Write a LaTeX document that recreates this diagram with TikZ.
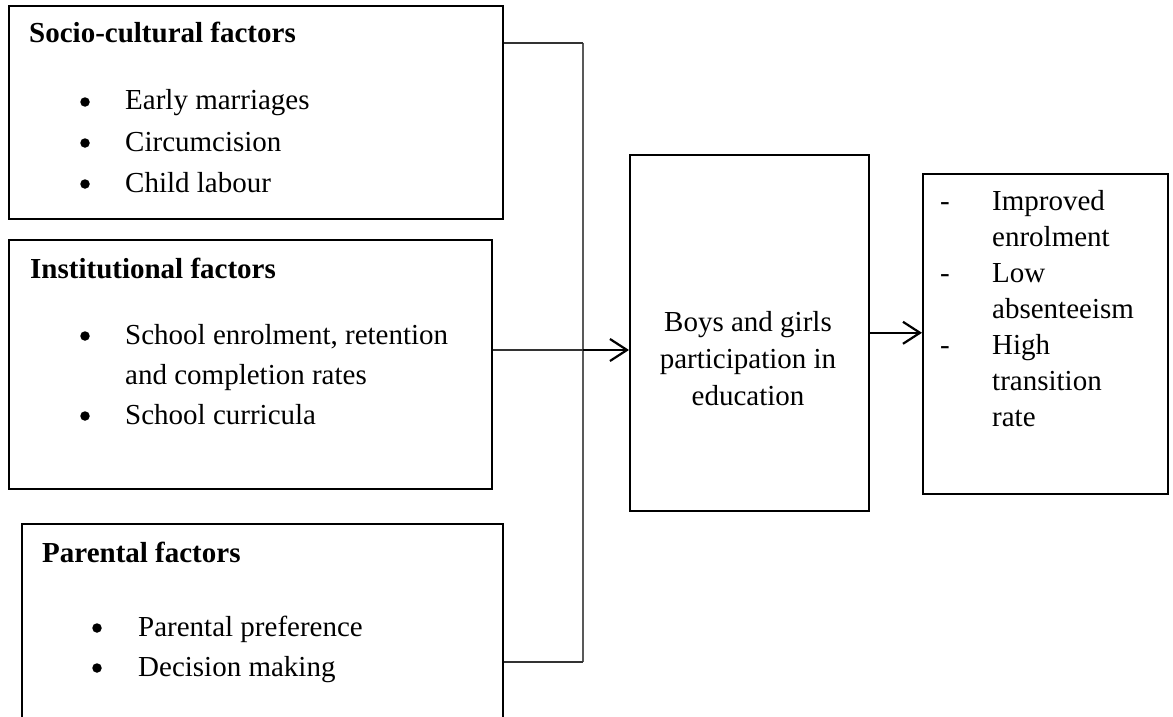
\documentclass[tikz,border=0pt]{standalone}
\usepackage{fontspec}
\setmainfont{Liberation Serif}
\usetikzlibrary{arrows.meta}
\tikzset{
  box/.style={draw=black, line width=1.6pt, anchor=north west, inner sep=0pt},
  txt/.style={anchor=base west, inner sep=0pt, font=\fontsize{29}{35}\selectfont},
  ctxt/.style={anchor=base, inner sep=0pt, font=\fontsize{29}{35}\selectfont},
  ttl/.style={txt, font=\fontsize{29}{35}\selectfont\bfseries},
  bul/.style={anchor=base, inner sep=0pt, font=\fontsize{29}{35}\selectfont},
  dot/.style={circle, fill=black, draw=none, inner sep=0pt, minimum size=9.5pt},
  thinline/.style={draw=black!80, line width=1.1pt},
  joinline/.style={draw=black!65, line width=1.6pt},
  arr/.style={draw=black, line width=2pt, -{Straight Barb[length=17pt,width=22pt,line width=2.2pt]}}
}
\begin{document}
\begin{tikzpicture}[x={(1pt,0pt)}, y={(0pt,-1pt)}]
\useasboundingbox (0,0) rectangle (1173,717);
\clip (0,0) rectangle (1173,717);
% boxes
\node[box, minimum width=494pt, minimum height=213pt] (b1) at (8,5) {};
\node[box, minimum width=483pt, minimum height=249pt] (b2) at (8,239) {};
\node[box, minimum width=481pt, minimum height=230pt] (b3) at (21,523) {};
\node[box, minimum width=239pt, minimum height=356pt] (bc) at (629,154) {};
\node[box, minimum width=245pt, minimum height=320pt] (br) at (922,173) {};
% box 1 text
\node[ttl] (t1) at (29,43) {Socio-cultural factors};
\node[dot] (u11) at (85,102) {};
\node[txt] (t11) at (125,110) {Early marriages};
\node[dot] (u12) at (85,143) {};
\node[txt] (t12) at (125,151) {Circumcision};
\node[dot] (u13) at (85,184) {};
\node[txt] (t13) at (125,192) {Child labour};
% box 2 text
\node[ttl] (t2) at (30,278) {Institutional factors};
\node[dot] (u21) at (85,336) {};
\node[txt] (t21) at (125,344) {School enrolment, retention};
\node[txt] (t22) at (125,384) {and completion rates};
\node[dot] (u23) at (85,416) {};
\node[txt] (t23) at (125,424) {School curricula};
% box 3 text
\node[ttl] (t3) at (42,562) {Parental factors};
\node[dot] (u31) at (97,628) {};
\node[txt] (t31) at (138,636) {Parental preference};
\node[dot] (u32) at (97,668) {};
\node[txt] (t32) at (138,676) {Decision making};
% centre text
\node[ctxt] (c1) at (748,331) {Boys and girls};
\node[ctxt] (c2) at (748,368) {participation in};
\node[ctxt] (c3) at (748,405) {education};
% right box text
\node[bul] (d1) at (945,210) {-};
\node[txt] (r1) at (992,210) {Improved};
\node[txt] (r2) at (992,246) {enrolment};
\node[bul] (d2) at (945,282) {-};
\node[txt] (r3) at (992,282) {Low};
\node[txt] (r4) at (992,318) {absenteeism};
\node[bul] (d3) at (945,354) {-};
\node[txt] (r5) at (992,354) {High};
\node[txt] (r6) at (992,390) {transition};
\node[txt] (r7) at (992,426) {rate};
% connectors
\coordinate (j1) at (583,43);
\coordinate (j2) at (583,350);
\coordinate (j3) at (583,662);
\draw[joinline] (j1) -- (j3);
\draw[thinline] (b1.east |- j1) -- (j1);
\draw[thinline] (b2.east |- j2) -- (j2);
\draw[thinline] (b3.east |- j3) -- (j3);
\draw[arr] (j2) -- (bc.west |- j2);
\draw[arr] (bc.east) -- (br.west |- bc.east);
\end{tikzpicture}
\end{document}
